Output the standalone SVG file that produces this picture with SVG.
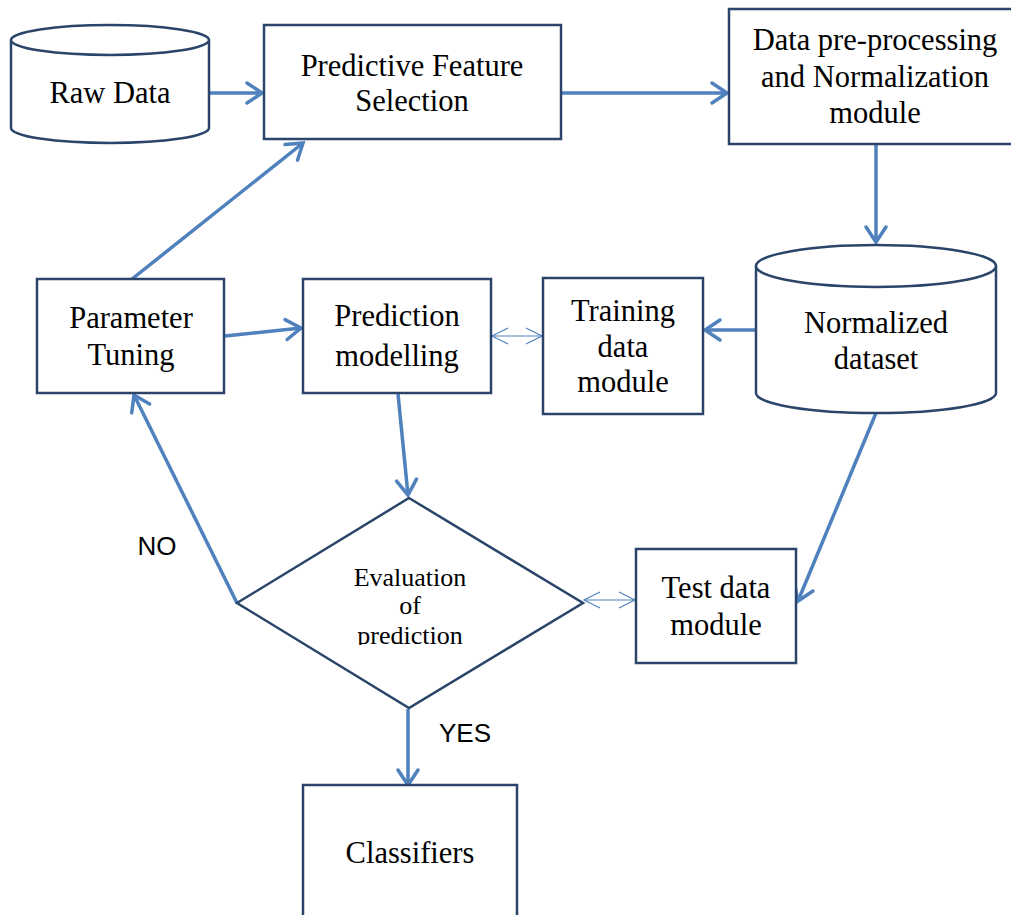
<svg xmlns="http://www.w3.org/2000/svg" width="1011" height="915" viewBox="0 0 1011 915">
<style>
.box{fill:#fff;stroke:#2A4569;stroke-width:2.5}
.lbl{font-family:"Liberation Serif","Times New Roman",serif;font-size:30.5px;fill:#000;text-anchor:middle}
.small{font-size:26px}
.sans{font-family:"Liberation Sans",Arial,sans-serif;font-size:26px;fill:#000;text-anchor:middle}
.arr{fill:none;stroke:#4F81BD;stroke-width:3.5;marker-end:url(#ah)}
.dbl{fill:none;stroke:#4F81BD;stroke-width:1.2;marker-end:url(#th);marker-start:url(#th)}
</style>
<defs>
<marker id="ah" markerUnits="userSpaceOnUse" viewBox="-20 -14 24 28" refX="0" refY="0" markerWidth="24" markerHeight="28" orient="auto">
<path d="M-15,-10 L0,0 L-15,10" fill="none" stroke="#4F81BD" stroke-width="3.5" stroke-linecap="round" stroke-linejoin="miter"/>
</marker>
<marker id="th" markerUnits="userSpaceOnUse" viewBox="-20 -12 22 24" refX="0" refY="0" markerWidth="22" markerHeight="24" orient="auto-start-reverse">
<path d="M-16,-8 L0,0 L-16,8" fill="none" stroke="#4F81BD" stroke-width="1.2"/>
</marker>
<clipPath id="evalclip"><rect x="300" y="540" width="220" height="105"/></clipPath>
</defs>

<g id="connectors">
<line class="arr" x1="210" y1="93" x2="262" y2="93"/>
<line class="arr" x1="562" y1="93" x2="727" y2="93"/>
<line class="arr" x1="876" y1="145" x2="876" y2="242"/>
<line class="arr" x1="756" y1="330" x2="705" y2="330"/>
<line class="dbl" x1="492" y1="336" x2="542" y2="336"/>
<line class="arr" x1="225" y1="336" x2="301" y2="328"/>
<line class="arr" x1="132" y1="279" x2="303" y2="143"/>
<line class="arr" x1="398" y1="394" x2="408" y2="495"/>
<line class="arr" x1="237" y1="603" x2="134" y2="395"/>
<line class="dbl" x1="584" y1="600" x2="635" y2="600"/>
<line class="arr" x1="876" y1="413" x2="798" y2="601"/>
<line class="arr" x1="408" y1="709" x2="408" y2="785"/>
</g>

<g id="raw-data">
<path class="box" d="M11,40 L11,128 A99,15 0 0 0 209,128 L209,40"/>
<ellipse class="box" cx="110" cy="40" rx="99" ry="15"/>
<text class="lbl" x="110" y="103">Raw Data</text>
</g>

<g id="feature-selection">
<rect class="box" x="264" y="25" width="297" height="114"/>
<text class="lbl" x="412" y="76">Predictive Feature</text>
<text class="lbl" x="412" y="111">Selection</text>
</g>

<g id="preprocessing">
<rect class="box" x="729" y="9" width="295" height="135"/>
<text class="lbl" x="875" y="50">Data pre-processing</text>
<text class="lbl" x="875" y="87">and Normalization</text>
<text class="lbl" x="875" y="123">module</text>
</g>

<g id="normalized-dataset">
<path class="box" d="M756,266 L756,393 A120,20 0 0 0 996,393 L996,266"/>
<ellipse class="box" cx="876" cy="266" rx="120" ry="21"/>
<text class="lbl" x="876" y="333">Normalized</text>
<text class="lbl" x="876" y="369">dataset</text>
</g>

<g id="training-data">
<rect class="box" x="543" y="278" width="160" height="136"/>
<text class="lbl" x="623" y="321">Training</text>
<text class="lbl" x="623" y="357">data</text>
<text class="lbl" x="623" y="392">module</text>
</g>

<g id="prediction-modelling">
<rect class="box" x="303" y="279" width="188" height="114"/>
<text class="lbl" x="397" y="326">Prediction</text>
<text class="lbl" x="397" y="366">modelling</text>
</g>

<g id="parameter-tuning">
<rect class="box" x="37" y="279" width="187" height="114"/>
<text class="lbl" x="131" y="328">Parameter</text>
<text class="lbl" x="131" y="365">Tuning</text>
</g>

<g id="evaluation">
<polygon class="box" points="409,498 583,603 409,708 237,603"/>
<g clip-path="url(#evalclip)">
<text class="lbl small" x="410" y="586">Evaluation</text>
<text class="lbl small" x="410" y="614">of</text>
<text class="lbl small" x="410" y="644">prediction</text>
</g>
</g>

<g id="test-data">
<rect class="box" x="636" y="549" width="160" height="114"/>
<text class="lbl" x="716" y="598">Test data</text>
<text class="lbl" x="716" y="635">module</text>
</g>

<g id="classifiers">
<rect class="box" x="303" y="785" width="214" height="150"/>
<text class="lbl" x="410" y="863">Classifiers</text>
</g>

<g id="labels">
<text class="sans" x="157" y="555">NO</text>
<text class="sans" x="465" y="742">YES</text>
</g>
</svg>
